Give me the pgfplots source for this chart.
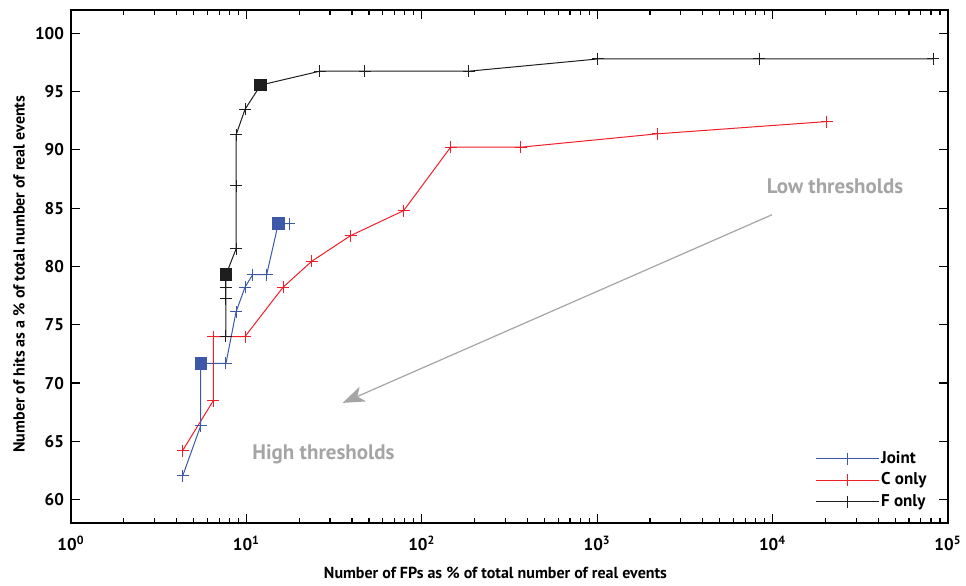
\documentclass[border=0pt]{standalone}
\usepackage{fontspec}
\setmainfont{PT Sans}
\usepackage{pgfplots}
\pgfplotsset{compat=1.18}
\usetikzlibrary{arrows.meta}

\definecolor{jointblue}{RGB}{62,88,168}
\definecolor{conlyred}{RGB}{240,30,40}
\definecolor{fonlyblack}{RGB}{30,30,30}
\definecolor{notegray}{RGB}{165,165,165}

\begin{document}
\begin{tikzpicture}
\begin{axis}[
  name=ax, scale only axis, width=438.5pt, height=256.5pt,
  xmode=log, xmin=1, xmax=1e5, ymin=58, ymax=102,
  xtick={1,10,100,1000,10000,100000},
  xticklabels={10\textsuperscript{0},10\textsuperscript{1},10\textsuperscript{2},10\textsuperscript{3},10\textsuperscript{4},10\textsuperscript{5}},
  ytick={60,65,...,100},
  /pgf/number format/assume math mode=true,
  tick label style={font=\fontsize{8.5}{10}\selectfont\bfseries},
  xticklabel style={yshift=-3pt},
  label style={font=\fontsize{8}{10}\selectfont\bfseries},
  axis line style={line width=1pt},
  major tick length=4.5pt, minor tick length=2.5pt,
  every tick/.style={line width=0.6pt, black},
  xlabel={Number of FPs as \% of total number of real events},
  ylabel={Number of hits as a \% of total number of real events},
  xlabel style={at={(axis description cs:0.484,-0.0975)}, anchor=center},
  ylabel style={at={(axis description cs:-0.0593,0.485)}, anchor=center},
  legend style={draw=none, fill=none, at={(axis description cs:0.985,0.012)}, anchor=south east,
    font=\fontsize{8.5}{10}\selectfont\bfseries, nodes={inner xsep=1pt, inner ysep=1.6pt}},
  legend cell align=left,
  legend image code/.code={\draw[mark repeat=2, mark phase=2] plot coordinates {(0cm,0cm) (0.55cm,0cm) (1.1cm,0cm)};},
  mark size=3pt,
]
\addplot[color=jointblue, mark=+, line width=0.5pt] coordinates {
  (4.33,62.03) (5.49,66.35) (5.49,71.7) (7.65,71.7) (8.73,76.1) (9.82,78.23)
  (10.86,79.3) (13.05,79.3) (15.2,83.68) (17.6,83.68)};
\addplot[color=conlyred, mark=+, line width=0.5pt] coordinates {
  (4.33,64.21) (6.48,68.5) (6.48,73.99) (9.82,73.99) (16.2,78.23) (23.6,80.45)
  (39.3,82.65) (78.8,84.79) (146,90.23) (366,90.23) (2210,91.38) (20400,92.43)};
\addplot[color=fonlyblack, mark=+, line width=0.5pt] coordinates {
  (7.65,74.0) (7.65,77.24) (7.65,78.23) (7.65,79.3) (8.73,81.5) (8.73,86.92)
  (8.73,91.28) (9.82,93.48) (12.06,95.56) (26.2,96.75) (47.3,96.75) (185,96.75)
  (1008,97.8) (8390,97.8) (82400,97.8)};
\legend{Joint, C only, F only}
\addplot[only marks, mark=square*, mark size=2.9pt, color=jointblue, forget plot] coordinates {(5.49,71.7) (15.2,83.68)};
\addplot[only marks, mark=square*, mark size=2.9pt, color=fonlyblack, forget plot] coordinates {(7.65,79.3) (12.06,95.56)};
\node[notegray, font=\fontsize{10.5}{12}\selectfont\bfseries] at (axis cs:22700,86.84) {Low thresholds};
\node[notegray, font=\fontsize{10.5}{12}\selectfont\bfseries] at (axis cs:27.5,63.93) {High thresholds};
\draw[notegray, line width=0.6pt, -{Stealth[length=11pt,width=8pt,inset=3pt]}] (axis cs:9930,84.44) -- (axis cs:35.4,68.3);
\end{axis}
\pgfresetboundingbox
\path ([shift={(-35.5pt,-31.5pt)}]ax.south west) rectangle ([shift={(9pt,5pt)}]ax.north east);
\end{tikzpicture}
\end{document}
